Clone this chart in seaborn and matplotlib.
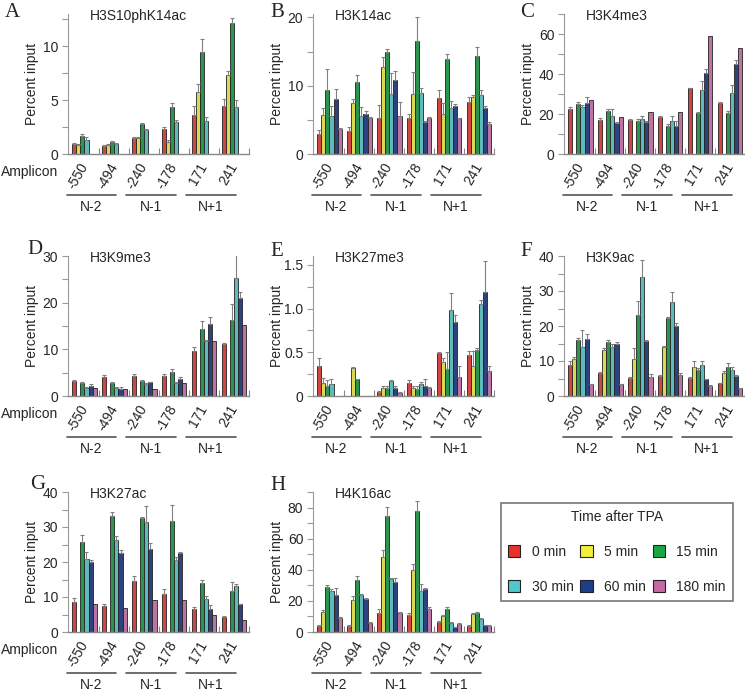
import numpy as np
import pandas as pd
import matplotlib
matplotlib.use("Agg")
import matplotlib.pyplot as plt
import matplotlib.transforms as mtransforms
from matplotlib.ticker import MultipleLocator, FuncFormatter
from matplotlib.patches import Patch
import seaborn as sns

nan = np.nan

# ==========================
# Data
# ==========================

amplicons = ["-550", "-494", "-240", "-178", "171", "241"]
nucleosomes = ["N-2", "N-1", "N+1"]
times = ["0 min", "5 min", "15 min", "30 min", "60 min", "180 min"]
colors = ["#e8302c", "#f2ee3c", "#1ba646", "#4fc9cc", "#1f3d8e", "#c868a6"]

# rows = time after TPA, columns = amplicons
a_val = [[0.9, 0.7, 1.5, 2.3, 3.6, 4.5],
         [0.8, 0.8, 1.5, 1.1, 5.8, 7.3],
         [1.7, 1.1, 2.8, 4.4, 9.5, 12.2],
         [1.3, 0.9, 2.2, 3.0, 3.1, 4.4],
         [nan, nan, nan, nan, nan, nan],
         [nan, nan, nan, nan, nan, nan]]
a_err = [[0.1, 0.1, 0.1, 0.2, 0.9, 0.6],
         [0.1, 0.1, 0.1, 0.2, 0.7, 0.4],
         [0.2, 0.1, 0.1, 0.3, 1.2, 0.4],
         [0.3, 0.1, 0.1, 0.2, 0.3, 0.6],
         [nan, nan, nan, nan, nan, nan],
         [nan, nan, nan, nan, nan, nan]]

b_val = [[2.9, 3.4, 5.2, 5.3, 8.2, 7.6],
         [5.7, 7.5, 12.8, 8.8, 5.9, 8.3],
         [9.4, 10.5, 14.9, 16.5, 13.9, 14.3],
         [5.6, 5.5, 8.8, 8.9, 6.8, 8.7],
         [8.1, 5.9, 10.8, 4.7, 7.1, 6.8],
         [3.6, 5.2, 5.6, 5.2, 5.2, 4.4]]
b_err = [[0.6, 0.6, 2.0, 0.5, 1.2, 0.8],
         [1.0, 0.5, 1.4, 3.2, 1.5, 0.3],
         [3.0, 1.1, 0.5, 3.5, 0.8, 1.3],
         [1.5, 1.4, 3.0, 0.7, 1.0, 0.6],
         [1.4, 0.4, 1.4, 0.2, 0.2, 0.2],
         [0.2, 0.2, 2.0, 0.2, 0.1, 0.3]]

c_val = [[22.5, 17.0, 17.0, 18.5, 32.8, 25.5],
         [nan, nan, nan, nan, nan, nan],
         [25.0, 21.5, 16.5, 14.0, 20.5, 20.7],
         [23.5, 19.0, 17.7, 16.5, 32.0, 30.7],
         [25.5, 15.5, 16.0, 14.0, 40.5, 45.0],
         [27.0, 18.7, 21.0, 21.0, 59.0, 53.2]]
c_err = [[0.8, 1.2, 0.4, 0.4, 0.3, 0.5],
         [nan, nan, nan, nan, nan, nan],
         [1.0, 0.8, 2.0, 0.5, 0.4, 0.4],
         [1.0, 1.0, 1.0, 0.8, 0.7, 0.8],
         [1.2, 3.5, 1.2, 2.5, 4.5, 3.8],
         [3.0, 0.5, 0.5, 2.5, 1.8, 2.0]]

d_val = [[3.2, 4.0, 4.3, 4.3, 9.7, 11.2],
         [nan, nan, nan, nan, nan, nan],
         [2.7, 2.8, 3.3, 5.1, 14.3, 16.2],
         [1.7, 1.7, 2.6, 2.8, 11.7, 25.3],
         [2.2, 1.6, 3.0, 3.6, 15.5, 21.1],
         [1.7, 1.6, 1.6, 2.8, 11.8, 15.2]]
d_err = [[0.2, 0.5, 0.5, 0.4, 0.8, 0.2],
         [nan, nan, nan, nan, nan, nan],
         [0.2, 0.8, 0.5, 0.2, 2.0, 5.2],
         [0.3, 0.2, 0.2, 0.6, 1.8, 3.5],
         [0.3, 0.3, 0.2, 0.3, 0.3, 5.0],
         [0.3, 0.3, 0.1, 0.4, 1.5, 1.2]]

e_val = [[0.34, nan, 0.05, 0.15, 0.49, 0.47],
         [0.15, 0.32, 0.09, 0.09, 0.39, 0.34],
         [0.12, 0.19, 0.09, 0.08, 0.31, 0.53],
         [0.14, nan, 0.17, 0.14, 0.98, 1.05],
         [nan, nan, 0.09, 0.12, 0.85, 1.19],
         [nan, nan, 0.03, 0.09, 0.22, 0.29]]
e_err = [[0.09, nan, 0.01, 0.03, 0.01, 0.04],
         [0.06, 0.01, 0.02, 0.03, 0.05, 0.18],
         [0.06, 0.01, 0.02, 0.03, 0.19, 0.02],
         [0.05, nan, 0.01, 0.02, 0.20, 0.05],
         [nan, nan, 0.02, 0.07, 0.08, 0.35],
         [nan, nan, 0.02, 0.01, 0.12, 0.05]]

f_val = [[8.8, 6.6, 5.2, 5.7, 5.2, 3.7],
         [10.5, 13.1, 10.5, 14.1, 8.3, 6.5],
         [16.1, 15.3, 23.2, 22.3, 7.4, 8.3],
         [13.9, 14.0, 34.0, 26.8, 8.9, 7.4],
         [16.3, 14.9, 15.8, 19.9, 4.8, 5.6],
         [3.3, 3.3, 5.3, 6.0, 2.9, 2.2]]
f_err = [[1.2, 0.3, 0.1, 0.3, 0.1, 0.1],
         [0.6, 0.6, 3.3, 0.3, 1.6, 0.6],
         [0.5, 0.6, 4.0, 0.2, 0.5, 1.0],
         [5.0, 0.8, 5.0, 3.0, 1.0, 0.8],
         [1.5, 0.5, 0.2, 1.0, 0.1, 0.3],
         [0.2, 0.1, 0.9, 0.5, 0.2, 0.1]]

g_val = [[8.5, 7.5, 14.6, 10.8, 6.6, 4.3],
         [nan, nan, nan, nan, nan, nan],
         [25.8, 33.2, 32.5, 31.6, 14.0, 11.7],
         [21.0, 26.3, 31.3, 20.6, 9.4, 13.1],
         [20.0, 22.5, 23.8, 22.5, 6.6, 8.0],
         [8.0, 7.0, 9.2, 9.2, 4.9, 3.5]]
g_err = [[1.3, 0.5, 1.5, 1.5, 0.5, 0.3],
         [nan, nan, nan, nan, nan, nan],
         [2.3, 2.0, 2.8, 0.2, 1.4, 0.4],
         [1.8, 1.0, 0.5, 4.6, 1.0, 2.7],
         [1.8, 1.0, 4.8, 0.8, 0.8, 0.5],
         [0.5, 0.8, 1.5, 0.5, 1.0, 0.1]]

h_val = [[4.0, 4.0, 12.0, 11.0, 6.5, 4.0],
         [13.0, 20.5, 48.5, 40.0, 10.0, 11.5],
         [29.0, 33.5, 74.5, 78.0, 14.5, 12.5],
         [26.3, 23.5, 34.0, 26.5, 5.5, 8.5],
         [23.5, 21.5, 32.0, 27.5, 3.0, 4.5],
         [9.0, 6.0, 12.5, 15.0, 5.0, 4.0]]
h_err = [[0.5, 0.5, 2.5, 1.0, 0.5, 0.3],
         [1.0, 2.5, 4.0, 4.0, 1.0, 0.5],
         [1.0, 2.5, 6.0, 6.5, 1.5, 0.5],
         [1.2, 0.8, 0.5, 4.5, 1.0, 0.5],
         [4.5, 0.5, 3.0, 0.5, 0.3, 0.3],
         [0.5, 0.3, 0.5, 0.8, 0.5, 0.3]]

# letter, mark, values, errors, y max, major tick step
panels = [("A", "H3S10phK14ac", a_val, a_err, 13, 5),
          ("B", "H3K14ac", b_val, b_err, 20.5, 10),
          ("C", "H3K4me3", c_val, c_err, 70, 20),
          ("D", "H3K9me3", d_val, d_err, 30, 10),
          ("E", "H3K27me3", e_val, e_err, 1.6, 0.5),
          ("F", "H3K9ac", f_val, f_err, 40, 10),
          ("G", "H3K27ac", g_val, g_err, 40, 10),
          ("H", "H4K16ac", h_val, h_err, 90, 20)]

# ==========================
# Style / layout
# ==========================

sns.set_style("ticks")
plt.rcParams["font.family"] = ["Liberation Sans", "DejaVu Sans"]
plt.rcParams["font.size"] = 10

W, H = 745, 693
col_left = [68, 313, 564]
row_base = [154, 396, 632]
ax_w, ax_h = 181, 140
letter_pos = [(5, 3), (270, 3), (520, 3), (27, 240), (270, 242), (520, 242),
              (30, 475), (270, 476)]

fig = plt.figure(figsize=(W / 100, H / 100), dpi=100)

for i, (letter, mark, vals, errs, ymax, step) in enumerate(panels):
    row, col = divmod(i, 3)
    ax = fig.add_axes([col_left[col] / W, (H - row_base[row]) / H, ax_w / W, ax_h / H])

    rows = []
    for t, vrow, erow in zip(times, vals, errs):
        for amp, v, e in zip(amplicons, vrow, erow):
            rows.append({"amplicon": amp, "time": t, "value": v, "err": e})
    df = pd.DataFrame(rows).dropna(subset=["value"])

    sns.barplot(data=df, x="amplicon", y="value", hue="time",
                order=amplicons, hue_order=times, palette=colors,
                width=0.82, edgecolor="#222222", linewidth=0.6,
                errorbar=None, legend=False, ax=ax)

    # upper error bars, one per drawn bar
    present = [t for t in times if (df["time"] == t).any()]
    for t, cont in zip(present, ax.containers):
        sub = df[df["time"] == t]
        for bar, e in zip(cont, sub["err"]):
            ax.errorbar(bar.get_x() + bar.get_width() / 2, bar.get_height(),
                        yerr=[[0], [e]], fmt="none", ecolor="#808080",
                        elinewidth=0.8, capsize=1.5, capthick=0.8)

    ax.set_xlim(-0.55, 5.5)
    ax.set_ylim(0, ymax)
    ax.set_xlabel("")
    ax.set_ylabel("Percent input", fontsize=10)
    ax.yaxis.set_label_coords(-0.16, 0.5)

    ax.yaxis.set_major_locator(MultipleLocator(step))
    ax.yaxis.set_minor_locator(MultipleLocator(step / 2))
    ax.yaxis.set_major_formatter(FuncFormatter(
        lambda v, p, s=step: "0" if v == 0 else (f"{v:.1f}" if s < 1 else f"{v:.0f}")))
    ax.tick_params(axis="y", which="major", length=4, width=0.8, color="#999999",
                   labelsize=10, pad=3)
    ax.tick_params(axis="y", which="minor", length=4, width=0.8, color="#999999")

    ax.set_xticks(range(len(amplicons)))
    ax.set_xticklabels(amplicons, rotation=60, ha="right", va="center",
                       rotation_mode="anchor", fontsize=10)
    ax.set_xticks(np.arange(0.5, len(amplicons), 1), minor=True)
    ax.tick_params(axis="x", which="major", length=0, pad=7)
    ax.tick_params(axis="x", which="minor", direction="in", length=4,
                   width=0.8, color="#888888")

    sns.despine(ax=ax)
    ax.spines["left"].set_color("#999999")
    ax.spines["left"].set_linewidth(0.8)
    ax.spines["bottom"].set_color("#888888")
    ax.spines["bottom"].set_linewidth(1.0)

    ax.text(0.12, 0.985, mark, transform=ax.transAxes, ha="left", va="center",
            fontsize=10)
    lx, ly = letter_pos[i]
    fig.text(lx / W, 1 - ly / H, letter, ha="left", va="top", fontsize=15,
             family=["Liberation Serif", "DejaVu Serif"])

    if col == 0:
        ax.text(-0.37, -0.13, "Amplicon", transform=ax.transAxes,
                ha="left", va="center", fontsize=10)

    # nucleosome brackets under amplicon pairs
    trans = mtransforms.blended_transform_factory(ax.transData, ax.transAxes)
    for k, nuc in enumerate(nucleosomes):
        x0, x1 = 2 * k - 0.6, 2 * k + 1.05
        ax.plot([x0, x1], [-0.295, -0.295], transform=trans, clip_on=False,
                color="#555555", lw=1.2)
        ax.text((x0 + x1) / 2, -0.33, nuc, transform=trans, ha="center",
                va="top", fontsize=10)

# ==========================
# Legend
# ==========================

handles = [Patch(facecolor=c, edgecolor="#222222", linewidth=0.8, label=t)
           for c, t in zip(colors, times)]
handles = [handles[j] for j in [0, 3, 1, 4, 2, 5]]
leg = fig.legend(handles=handles, loc="upper left",
                 bbox_to_anchor=(501 / W, 1 - 503 / H), ncol=3,
                 title="Time after TPA", fontsize=10, title_fontsize=10,
                 frameon=True, fancybox=False, edgecolor="#555555",
                 handlelength=0.9, handleheight=0.9, handletextpad=0.8,
                 columnspacing=0.5, labelspacing=1.5, borderpad=0.5,
                 borderaxespad=0)
leg.get_frame().set_linewidth(1.2)

fig.savefig("out.png", dpi=100)
